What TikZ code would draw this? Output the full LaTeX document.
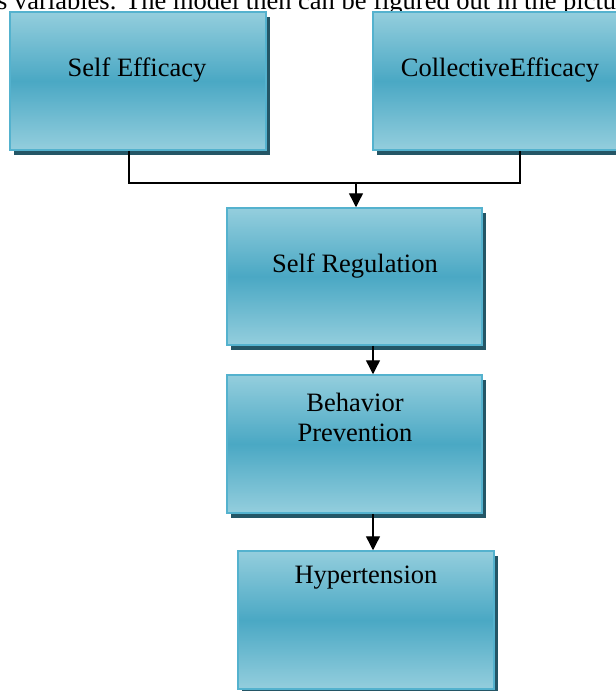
\documentclass[tikz,border=0pt]{standalone}
\usepackage{fontspec}
\setmainfont{Liberation Serif}
\usetikzlibrary{shadows,arrows.meta}
\definecolor{boxlight}{RGB}{148,206,221}
\definecolor{boxmid}{RGB}{74,168,196}
\definecolor{boxedge}{RGB}{84,178,206}
\definecolor{boxshadow}{RGB}{36,86,102}
\tikzset{
  box/.style={rectangle, draw=boxedge, line width=1.5pt, top color=boxlight, bottom color=boxlight, middle color=boxmid, minimum width=#1, inner sep=0pt,
    general shadow={fill=boxshadow, shadow xshift=3.5pt, shadow yshift=-4.5pt}},
  txt/.style={font=\fontsize{26.5}{30}\selectfont, align=center, inner sep=0pt},
  conn/.style={line width=1.4pt, black},
  arr/.style={conn, -{Triangle[length=14pt,width=14pt]}}
}
\begin{document}
\begin{tikzpicture}[x=1pt,y=-1pt]
\useasboundingbox (0,0) rectangle (616,691);
\clip (0,0) rectangle (616,691);
\fill[white] (0,0) rectangle (616,691);
\node[txt, anchor=base west] (top) at (-3,9) {s variables. The model then can be figured out in the picture};
\node[box=256pt, minimum height=138pt] (se) at (138,81) {};
\node[txt] (set) at (137,70) {Self Efficacy};
\node[box=256pt, minimum height=138pt] (ce) at (501,81) {};
\node[txt] (cet) at (500,70) {CollectiveEfficacy};
\node[box=255pt, minimum height=137pt] (sr) at (354.5,276.5) {};
\node[txt] (srt) at (355,266) {Self Regulation};
\node[box=255pt, minimum height=138pt] (bp) at (354.5,444) {};
\node[txt] (bpt) at (355,417) {Behavior\\Prevention};
\node[box=256pt, minimum height=138pt] (ht) at (366,620) {};
\node[txt] (htt) at (366,578) {Hypertension};
\coordinate (j) at ([xshift=1.5pt]sr.north |- 0,183);
\draw[conn] ([xshift=-9pt]se.south) |- (j) -| ([xshift=19pt]ce.south);
\draw[arr] (j) -- (j |- sr.north);
\draw[arr] ([xshift=18.5pt]sr.south) -- ([xshift=18.5pt]sr.south |- bp.north);
\draw[arr] ([xshift=18.5pt]bp.south) -- ([xshift=18.5pt]bp.south |- ht.north);
\end{tikzpicture}
\end{document}
